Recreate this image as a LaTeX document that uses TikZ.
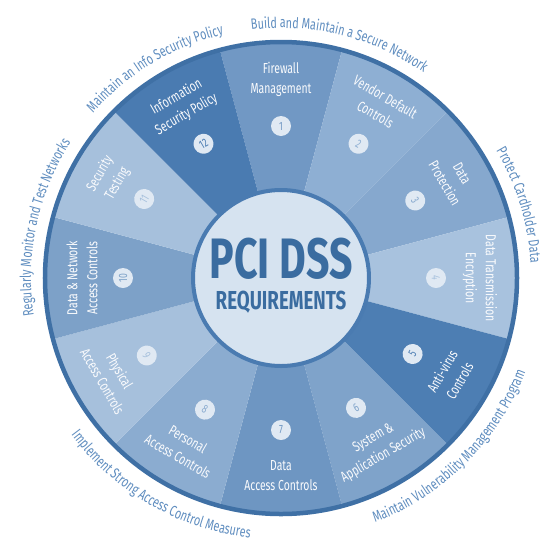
\documentclass[tikz,border=0pt]{standalone}
\usepackage{fontspec}
\setmainfont{Fira Sans}[FakeStretch=0.72]
\usetikzlibrary{decorations.text}

\definecolor{ringblue}{HTML}{3F70A5}
\definecolor{hubfill}{HTML}{D6E3F0}
\definecolor{titleblue}{HTML}{3A6CA0}
\definecolor{outerblue}{HTML}{5F8DBF}
\definecolor{numfill}{HTML}{E0E9F3}
\definecolor{segone}{HTML}{7198C4}
\definecolor{segtwo}{HTML}{8EAFD3}
\definecolor{segthree}{HTML}{86A8CE}
\definecolor{segfour}{HTML}{A8C2DE}
\definecolor{segfive}{HTML}{4D7EB3}
\definecolor{segsix}{HTML}{7FA3CA}
\definecolor{segseven}{HTML}{6E96C2}
\definecolor{segeight}{HTML}{8BACD0}
\definecolor{segnine}{HTML}{A6C0DC}
\definecolor{segten}{HTML}{7DA1C8}
\definecolor{segeleven}{HTML}{A6C0DC}
\definecolor{segtwelve}{HTML}{4A7BB1}

\newcommand{\outerfont}{\fontsize{15}{15}\selectfont\color{outerblue}}

\begin{document}
\begin{tikzpicture}[x=1pt, y=1pt,
      lbl/.style={align=center, text=white!94!segfour, font=\fontsize{14.5}{20}\selectfont},
      num/.style={circle, fill=numfill, inner sep=0pt, minimum size=20pt, font=\fontsize{12}{12}\selectfont},
      toparc/.style={decorate, decoration={text along path, text align=center, text={#1}}},
      botarc/.style={decorate, decoration={text along path, text align=center, text={#1}}}
      ]
      \useasboundingbox (-281,-264) rectangle (264,278);

      % wedges, clockwise from the top
      \fill[segone] (0,0) -- (105:236) arc[start angle=105, end angle=75, radius=236] -- cycle;
      \fill[segtwo] (0,0) -- (75:236) arc[start angle=75, end angle=45, radius=236] -- cycle;
      \fill[segthree] (0,0) -- (45:236) arc[start angle=45, end angle=15, radius=236] -- cycle;
      \fill[segfour] (0,0) -- (15:236) arc[start angle=15, end angle=-15, radius=236] -- cycle;
      \fill[segfive] (0,0) -- (-15:236) arc[start angle=-15, end angle=-45, radius=236] -- cycle;
      \fill[segsix] (0,0) -- (-45:236) arc[start angle=-45, end angle=-75, radius=236] -- cycle;
      \fill[segseven] (0,0) -- (-75:236) arc[start angle=-75, end angle=-105, radius=236] -- cycle;
      \fill[segeight] (0,0) -- (-105:236) arc[start angle=-105, end angle=-135, radius=236] -- cycle;
      \fill[segnine] (0,0) -- (-135:236) arc[start angle=-135, end angle=-165, radius=236] -- cycle;
      \fill[segten] (0,0) -- (-165:236) arc[start angle=-165, end angle=-195, radius=236] -- cycle;
      \fill[segeleven] (0,0) -- (165:236) arc[start angle=165, end angle=135, radius=236] -- cycle;
      \fill[segtwelve] (0,0) -- (135:236) arc[start angle=135, end angle=105, radius=236] -- cycle;
      \draw[ringblue, line width=4.5pt] (0,0) circle[radius=236];

      % requirement labels
      \node[lbl] (t1) at (90:199) {Firewall\\Management};
      \node[lbl, rotate=-30] (t2) at (60:199) {Vendor Default\\Controls};
      \node[lbl, rotate=-60] (t3) at (30:199) {Data\\Protection};
      \node[lbl, rotate=-90] (t4) at (0:199) {Data Transmission\\Encryption};
      \node[lbl, rotate=60] (t5) at (-30:196) {Anti-virus\\Controls};
      \node[lbl, rotate=30] (t6) at (-60:195) {System \&\\Application Security};
      \node[lbl] (t7) at (-90:198) {Data\\Access Controls};
      \node[lbl, rotate=-30] (t8) at (-120:196) {Personal\\Access Controls};
      \node[lbl, rotate=-60] (t9) at (-150:196) {Physical\\Access Controls};
      \node[lbl, rotate=90] (t10) at (180:199) {Data \& Network\\Access Controls};
      \node[lbl, rotate=60] (t11) at (150:199) {Security\\Testing};
      \node[lbl, rotate=30] (t12) at (120:199) {Information\\Security Policy};

      % numbers
      \node[num, text=segone] (n1) at (90:152) {1};
      \node[num, text=segtwo, rotate=-30] (n2) at (60:155) {2};
      \node[num, text=segthree, rotate=-60] (n3) at (30:155) {3};
      \node[num, text=segfour, rotate=-90] (n4) at (0:155) {4};
      \node[num, text=segfive, rotate=60] (n5) at (-30:152) {5};
      \node[num, text=segsix, rotate=30] (n6) at (-60:150) {6};
      \node[num, text=segseven] (n7) at (-90:152) {7};
      \node[num, text=segeight, rotate=-30] (n8) at (-120:152) {8};
      \node[num, text=segnine, rotate=-60] (n9) at (-150:155) {9};
      \node[num, text=segten, rotate=90] (n10) at (180:158) {10};
      \node[num, text=segeleven, rotate=60] (n11) at (150:158) {11};
      \node[num, text=segtwelve, rotate=30] (n12) at (120:155) {12};

      % hub
      \node[circle, fill=hubfill, draw=segtwelve, line width=4pt, minimum size=176pt] (hub) at (0,0) {};
      \node[anchor=base, text=titleblue, font=\fontsize{57}{57}\selectfont\bfseries] (pci) at ([yshift=0pt]hub.center) {PCI DSS};
      \node[anchor=base, text=titleblue, font=\fontsize{26}{26}\selectfont\bfseries] (req) at ([yshift=-31pt]hub.center) {REQUIREMENTS};

      % control objectives round the rim
      \path[toparc={|\outerfont|Build and Maintain a Secure Network}] (116:250) arc[start angle=116, end angle=36, radius=250];
      \path[toparc={|\outerfont|Protect Cardholder Data}] (57:250) arc[start angle=57, end angle=-23, radius=250];
      \path[botarc={|\outerfont|Maintain Vulnerability Management Program}] (-95:262) arc[start angle=-95, end angle=5, radius=262];
      \path[botarc={|\outerfont|Implement Strong Access Control Measures}] (-170:262) arc[start angle=-170, end angle=-70, radius=262];
      \path[toparc={|\outerfont|Regularly Monitor and Test Networks}] (208:250) arc[start angle=208, end angle=128, radius=250];
      \path[toparc={|\outerfont|Maintain an Info Security Policy}] (161:250) arc[start angle=161, end angle=81, radius=250];
    \end{tikzpicture}
\end{document}
